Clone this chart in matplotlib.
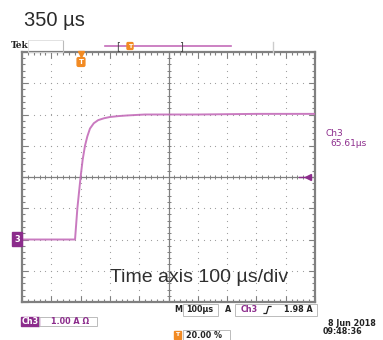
import matplotlib
matplotlib.use("Agg")
import matplotlib.pyplot as plt
from matplotlib.patches import Rectangle
import numpy as np

# ---- data (time in µs, current in A; 1 A/div, 100 µs/div) ----
time_us = [0, 181, 185, 189, 195, 200, 207, 215, 223, 232, 245, 260, 280, 300, 330, 360, 420, 600, 800, 1000]
current_a = [-2.0, -2.0, -1.5, -1.0, -0.45, 0.0, 0.55, 1.0, 1.3, 1.55, 1.72, 1.82, 1.88, 1.92, 1.95, 1.97, 2.0, 2.0, 2.02, 2.02]

title_text = "350 µs"
axis_note = "Time axis 100 µs/div"
ch_label = "Ch3"
ch_meas = "65.61µs"
ch_scale = "1.00 A Ω"
timebase = "100µs"
trig_level = "1.98 A"
trig_pos = "20.00 %"
date_text = "8 Jun 2018"
time_text = "09:48:36"

W, H = 383, 340
PURPLE = "#8c2c8c"
TRACE = "#c46cb9"
ORANGE = "#f28a22"
GRID = "#9a9a9a"
BORDER = "#808080"

fig = plt.figure(figsize=(W / 100, H / 100), dpi=100)
fig.patch.set_facecolor("white")

# main scope screen
L, R, T, B = 22, 315, 52, 302
ax = fig.add_axes([L / W, 1 - B / H, (R - L) / W, (B - T) / H])
ax.set_xlim(0, 1000)
ax.set_ylim(-4, 4)
for s in ax.spines.values():
    s.set_color(BORDER)
    s.set_linewidth(1.6)
ax.set_xticks(np.arange(0, 1001, 100))
ax.set_xticks(np.arange(0, 1001, 20), minor=True)
ax.set_yticks(np.arange(-4, 4.01, 1))
ax.set_yticks(np.arange(-4, 4.01, 0.2), minor=True)
ax.tick_params(which="both", direction="in", top=True, right=True,
               labelleft=False, labelbottom=False, color=BORDER, width=0.8)
ax.tick_params(which="major", length=4)
ax.tick_params(which="minor", length=2.5)

# dotted graticule
for k in range(1, 10):
    if k == 5:
        continue
    yy = np.arange(-4, 4.01, 0.2)
    ax.scatter(np.full_like(yy, k * 100), yy, s=0.7, color=GRID, lw=0, zorder=1)
for k in [-3, -2, -1, 1, 2, 3]:
    xx = np.arange(0, 1001, 20)
    ax.scatter(xx, np.full_like(xx, k, dtype=float), s=0.7, color=GRID, lw=0, zorder=1)
# centre cross with ticks
ax.axhline(0, color=BORDER, lw=0.9, zorder=1)
ax.axvline(500, color=BORDER, lw=0.9, zorder=1)
xx = np.arange(0, 1001, 20)
ax.scatter(xx, np.zeros_like(xx), marker="|", s=8, color=BORDER, lw=0.7, zorder=1)
yy = np.arange(-4, 4.01, 0.2)
ax.scatter(np.full_like(yy, 500), yy, marker="_", s=8, color=BORDER, lw=0.7, zorder=1)

# trace
ax.plot(time_us, current_a, color=TRACE, lw=1.4, alpha=0.9, zorder=3, solid_joinstyle="round")

# trigger level arrow on right
ax.plot([945, 975], [0, 0], color=PURPLE, lw=1.0, zorder=4)
ax.plot([975], [0], marker="<", color=PURPLE, ms=5, zorder=4, clip_on=False)

# trigger position marker at top
ax.plot([200], [3.93], marker="v", color=ORANGE, ms=4, zorder=5, clip_on=False)

# overlay in pixel coordinates
ov = fig.add_axes([0, 0, 1, 1])
ov.set_xlim(0, W)
ov.set_ylim(H, 0)
ov.axis("off")
ov.patch.set_alpha(0)

sans = ["Liberation Sans", "DejaVu Sans"]
small = dict(family="DejaVu Sans", fontweight="bold", fontsize=5.8)

ov.text(24, 21, title_text, fontsize=14.5, family=sans, color="#2a2a2a", ha="left", va="center")
ov.text(110, 277, axis_note, fontsize=14, family=sans, color="#2f2f2f", ha="left", va="center")

# top bar
ov.text(11, 46, "Tek", family="DejaVu Serif", fontweight="bold", fontsize=6.5, color="#222", ha="left", va="center")
ov.add_patch(Rectangle((28, 40), 35, 12, fill=False, ec="#dddddd", lw=0.6))
ov.plot([63, 63], [41, 52], color="#bbbbbb", lw=0.8)
ov.plot([105, 231], [46, 46], color=TRACE, lw=1.2)
ov.text(118, 46, "[", fontsize=7, color="#444", ha="center", va="center")
ov.text(181, 46, "]", fontsize=7, color="#444", ha="center", va="center")
ov.text(130, 46, "T", fontsize=4.5, fontweight="bold", color="white", ha="center", va="center",
        bbox=dict(boxstyle="round,pad=0.15", fc=ORANGE, ec=ORANGE))
ov.plot([273, 273], [42, 52], color="#cccccc", lw=1.0)

# orange trigger marker under top border
ov.text(81, 62, "T", fontsize=5, fontweight="bold", color="white", ha="center", va="center",
        bbox=dict(boxstyle="round,pad=0.2", fc=ORANGE, ec=ORANGE))

# channel ground marker
ov.text(17, 239, "3", fontsize=6, fontweight="bold", color="white", ha="center", va="center",
        bbox=dict(boxstyle="square,pad=0.25", fc=PURPLE, ec=PURPLE))

# right side readout
ov.text(326, 133, ch_label, fontsize=6.5, color=PURPLE, ha="left", va="center", family="DejaVu Sans")
ov.text(330, 143, ch_meas, fontsize=6.5, color=PURPLE, ha="left", va="center", family="DejaVu Sans")

# bottom readouts
ov.add_patch(Rectangle((21, 317), 18, 9, fc=PURPLE, ec=PURPLE))
ov.text(30, 321.5, "Ch3", color="white", ha="center", va="center", **small)
ov.add_patch(Rectangle((39, 317), 58, 9, fill=False, ec="#bbbbbb", lw=0.7))
ov.text(51, 321.5, ch_scale, color=PURPLE, ha="left", va="center", **small)

ov.text(178, 310, "M", color="#222", ha="center", va="center", **small)
ov.add_patch(Rectangle((183, 304), 35, 12, fill=False, ec="#bbbbbb", lw=0.7))
ov.text(186, 310, timebase, color="#222", ha="left", va="center", **small)
ov.text(228, 310, "A", color="#222", ha="center", va="center", **small)
ov.add_patch(Rectangle((235, 304), 82, 12, fill=False, ec="#bbbbbb", lw=0.7))
ov.text(241, 310, ch_label, color=PURPLE, ha="left", va="center", **small)
ov.plot([264, 266.5, 268.5, 271], [313.5, 313.5, 306.5, 306.5], color="#222", lw=0.9)
ov.text(284, 310, trig_level, color="#222", ha="left", va="center", **small)

ov.text(177.5, 335, "T", fontsize=4.5, fontweight="bold", color="white", ha="center", va="center",
        bbox=dict(boxstyle="square,pad=0.2", fc=ORANGE, ec=ORANGE))
ov.add_patch(Rectangle((183, 330), 47, 10, fill=False, ec="#bbbbbb", lw=0.7))
ov.text(186, 335, trig_pos, color="#222", ha="left", va="center", **small)

ov.text(328, 323, date_text, color="#222", ha="left", va="center", **small)
ov.text(323, 331.5, time_text, color="#222", ha="left", va="center", **small)

fig.savefig("out.png", dpi=100, facecolor="white")
